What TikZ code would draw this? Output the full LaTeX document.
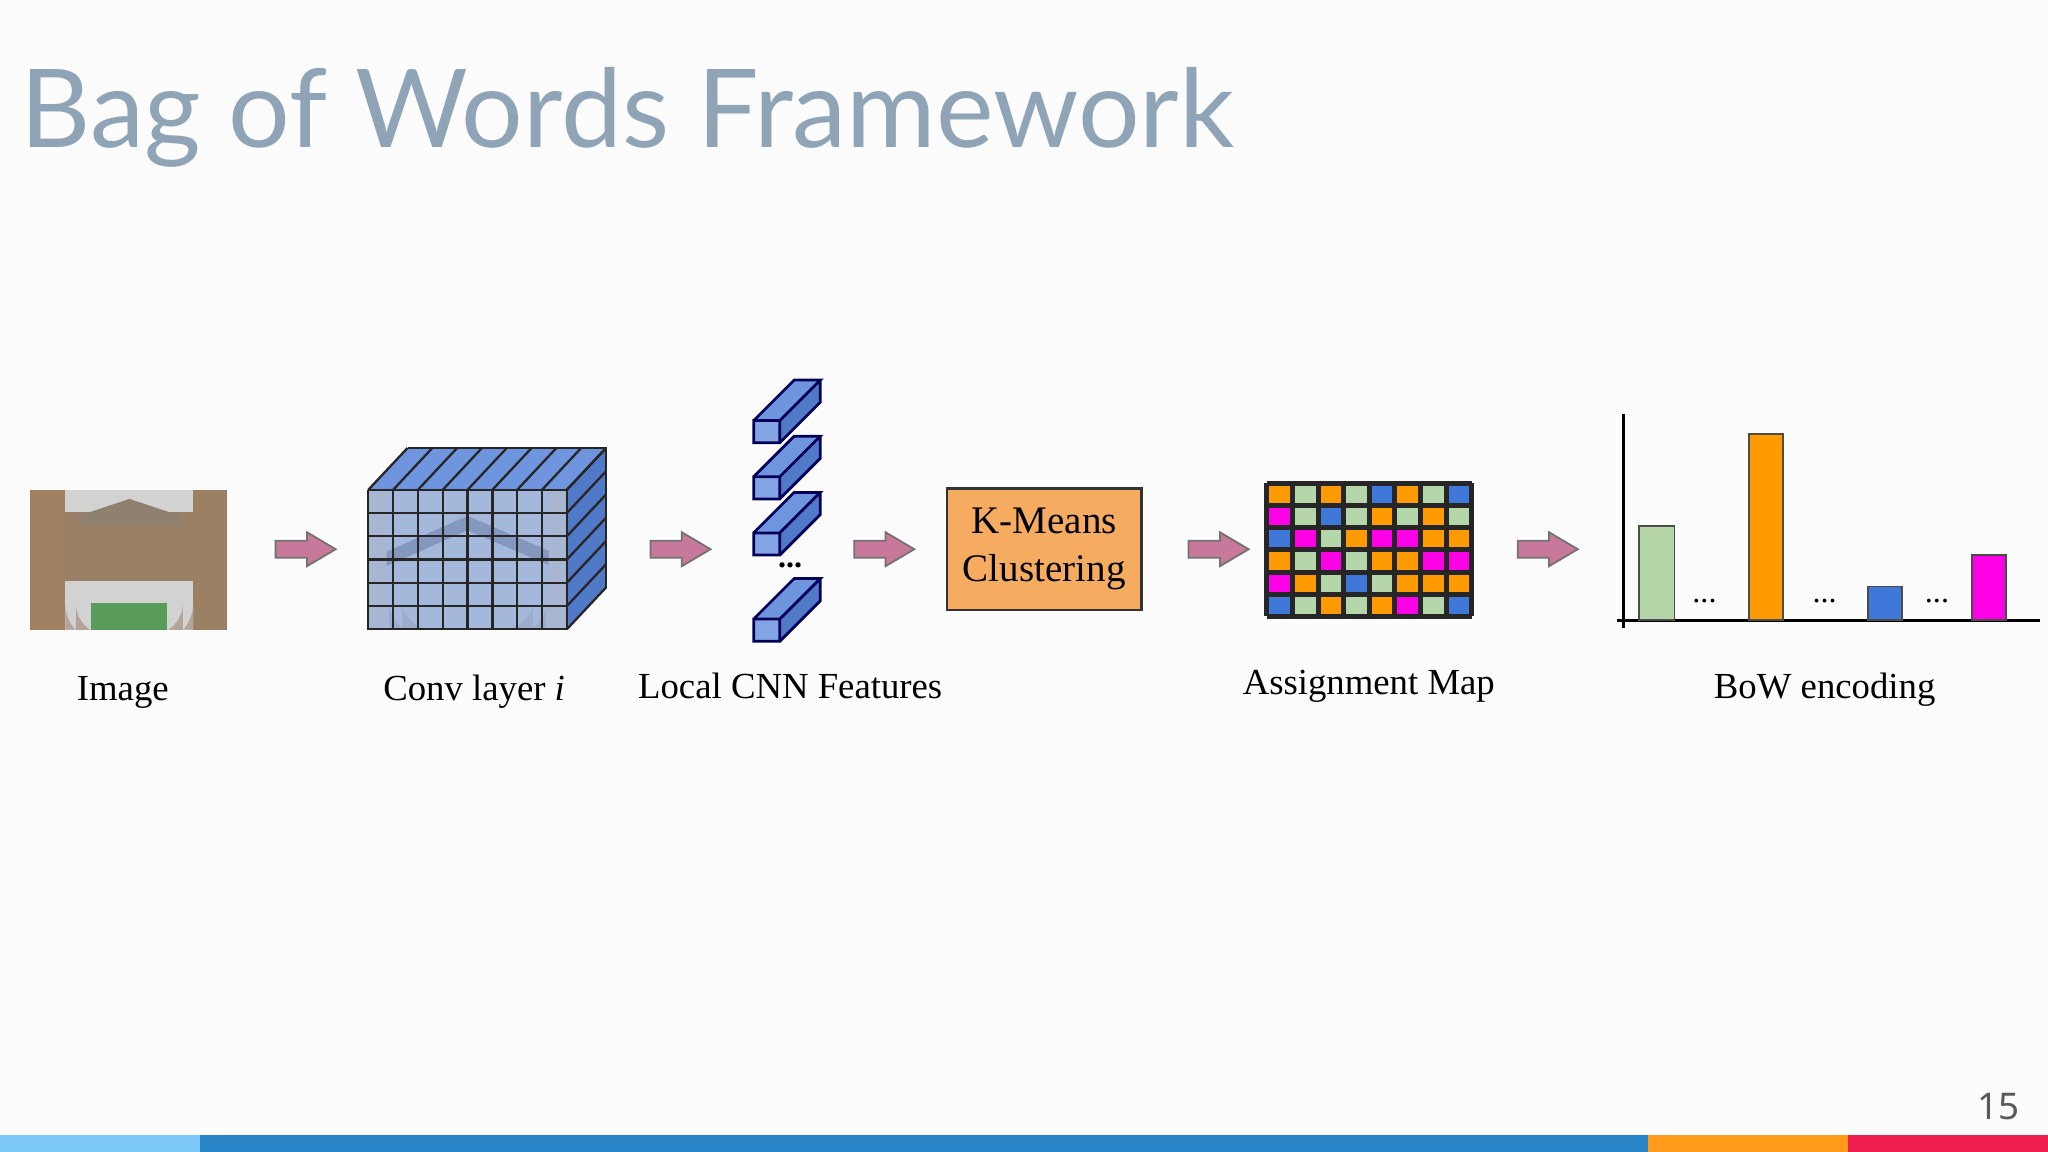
\documentclass[tikz,border=0pt]{standalone}
\usepackage{fontspec}
\setmainfont{Liberation Serif}
\newfontfamily\titlefont{Lato}
\newfontfamily\numfont{Noto Sans}
\definecolor{bg}{HTML}{FDFCFC}
\definecolor{ttl}{HTML}{8FA5B7}
\definecolor{arr}{HTML}{C8789A}
\definecolor{blk}{HTML}{6E95DE}
\definecolor{blkd}{HTML}{5079C8}
\definecolor{mO}{HTML}{FF9B00}
\definecolor{mG}{HTML}{B5D6A8}
\definecolor{mB}{HTML}{3F78D8}
\definecolor{mM}{HTML}{FF00E6}
\definecolor{km}{HTML}{F6AC60}
\definecolor{b1}{HTML}{7CC8F8}
\definecolor{b2}{HTML}{2A85C8}
\definecolor{b3}{HTML}{FF9A1A}
\definecolor{b4}{HTML}{EE1F4F}
\definecolor{face}{HTML}{A4B8DC}
\definecolor{face2}{HTML}{8497BE}
\tikzset{
 parr/.style={draw=black!55, fill=arr, line width=0.4pt, line join=miter},
 lbl/.style={font=\fontsize{8}{10}\selectfont, anchor=base},
 grid/.style={draw=black!85, line width=0.5pt},
}
\newcount\cc
\def\rr{0}
\newcommand{\cellrow}[2]{\def\rr{#1}\cc=0 \cellgo#2\relax}
\def\cellgo#1{\ifx#1\relax\else \fill[m#1] ({970+19.6*\the\cc},{370+17*\rr}) rectangle ++(19.6,17); \advance\cc by 1 \expandafter\cellgo\fi}
\begin{document}
\begin{tikzpicture}[x=0.01cm,y=-0.01cm]
\fill[bg] (0,0) rectangle (1568,882);
\useasboundingbox (0,0) rectangle (1568,882);
\node[anchor=base west, text=ttl, inner sep=0, font=\titlefont\fontsize{23.7}{28}\selectfont] (title) at (15,113) {Bag of Words Framework};
% image
\begin{scope}
\clip (23,375) rectangle (174,482);
\fill[gray!35] (23,375) rectangle (174,482);
\fill[brown!50!gray] (23,375) rectangle (50,482);
\fill[brown!45!gray] (148,375) rectangle (174,482);
\fill[gray!60!brown] (50,392) rectangle (148,445);
\fill[gray!75!brown] (60,395) -- (99,382) -- (138,395) -- (138,402) -- (60,402) -- cycle;
\fill[gray!25] (58,482) -- (58,462) arc[start angle=180,end angle=0,x radius=41,y radius=30] -- (140,482) -- cycle;
\fill[green!40!black!65] (70,462) rectangle (128,482);
\fill[brown!30!gray!70] (50,482) -- (50,462) arc[start angle=180,end angle=0,x radius=49,y radius=38] -- (148,482) -- (140,482) -- (140,462) arc[start angle=0,end angle=180,x radius=41,y radius=30] -- (58,482) -- cycle;
\end{scope}
% conv block
\fill[blk] (282,375) -- (312,343) -- (464,343) -- (434,375) -- cycle;
\fill[blkd] (434,375) -- (464,343) -- (464,450) -- (434,482) -- cycle;
\begin{scope}
\clip (282,375) rectangle (434,482);
\fill[face] (282,375) rectangle (434,482);
\fill[face2] (290,425) -- (358,395) -- (428,425) -- (428,436) -- (358,406) -- (290,436) -- cycle;
\fill[face2!80] (298,482) -- (298,462) arc[start angle=180,end angle=0,x radius=60,y radius=35] -- (418,482) -- (408,482) -- (408,462) arc[start angle=0,end angle=180,x radius=50,y radius=26] -- (308,482) -- cycle;
\fill[face2!70] (282,375) rectangle (296,482) (420,375) rectangle (434,482);
\end{scope}
\foreach \i in {0,...,8}{\draw[grid] ({282+19*\i},375) -- ({282+19*\i},482);}
\foreach \i in {0,...,6}{\draw[grid] (282,{375+17.8*\i}) -- (434,{375+17.8*\i});}
\foreach \i in {0,...,8}{\draw[grid] ({282+19*\i},375) -- ({312+19*\i},343);}
\foreach \i in {0,...,6}{\draw[grid] (434,{375+17.8*\i}) -- (464,{343+17.8*\i});}
\draw[grid] (312,343) -- (464,343) -- (464,450);
% features
\foreach \y in {322,365,408,474}{
 \fill[blk] (577,\y) -- (608,{\y-31}) -- (628,{\y-31}) -- (597,\y) -- cycle;
 \fill[blkd] (597,\y) -- (628,{\y-31}) -- (628,{\y-14}) -- (597,{\y+17}) -- cycle;
 \fill[blk!85!white] (577,\y) rectangle (597,{\y+17});
 \draw[blue!35!black, line width=0.6pt] (577,\y) rectangle (597,{\y+17}) (577,\y) -- (608,{\y-31}) -- (628,{\y-31}) -- (597,\y) (628,{\y-31}) -- (628,{\y-14}) -- (597,{\y+17});
}
\node[font=\bfseries\fontsize{7}{8}\selectfont] (fdots) at (605,433) {...};
% kmeans
\node[draw=black!80, fill=km, minimum width=1.49cm, minimum height=0.93cm, inner sep=0, align=center, font=\fontsize{8.5}{10.5}\selectfont, line width=0.6pt] (km) at (799.5,420.5) {K-Means\\Clustering};
% map
\cellrow{0}{OGOGBOGB}
\cellrow{1}{MGBGOGOG}
\cellrow{2}{BMGOMMOO}
\cellrow{3}{OGMGOOMM}
\cellrow{4}{MOGBGOOO}
\cellrow{5}{BGOGOMGB}
\foreach \i in {0,...,8}{\draw[black!85, line width=1.1pt] ({970+19.6*\i},370) -- ({970+19.6*\i},472);}
\foreach \i in {0,...,6}{\draw[black!85, line width=1.1pt] (970,{370+17*\i}) -- (1127,{370+17*\i});}
% bow chart
\draw[black, line width=0.5pt] (1243,317) -- (1243,481);
\draw[black, line width=0.5pt] (1238,475) -- (1562,475);
\draw[black!70, fill=mG] (1255,475) rectangle (1282,403);
\draw[black!70, fill=mO] (1339,475) rectangle (1365,332);
\draw[black!70, fill=mB] (1430,475) rectangle (1456,449);
\draw[black!70, fill=mM] (1510,475) rectangle (1536,425);
\foreach \x in {1305,1397,1483}{\node[font=\fontsize{7}{8}\selectfont] at (\x,460) {...};}
% arrows
\foreach \x in {234,521,677,933,1185}{
 \draw[parr] ({\x-23},414) -- ({\x+1},414) -- ({\x+1},407.5) -- ({\x+23},420.5) -- ({\x+1},433.5) -- ({\x+1},427) -- ({\x-23},427) -- cycle;}
% labels
\node[lbl] (l1) at (94,536) {Image};
\node[lbl] (l2) at (363,536) {Conv layer \textit{i}};
\node[lbl] (l3) at (605,535) {Local CNN Features};
\node[lbl] (l4) at (1048,532) {Assignment Map};
\node[lbl] (l5) at (1397,535) {BoW encoding};
% page number
\node[anchor=base, text=black!65, font=\numfont\fontsize{8}{9}\selectfont] (pg) at (1530,857) {15};
% bottom bar
\fill[b1] (0,869) rectangle (153,882);
\fill[b2] (153,869) rectangle (1262,882);
\fill[b3] (1262,869) rectangle (1415,882);
\fill[b4] (1415,869) rectangle (1568,882);
\end{tikzpicture}
\end{document}
